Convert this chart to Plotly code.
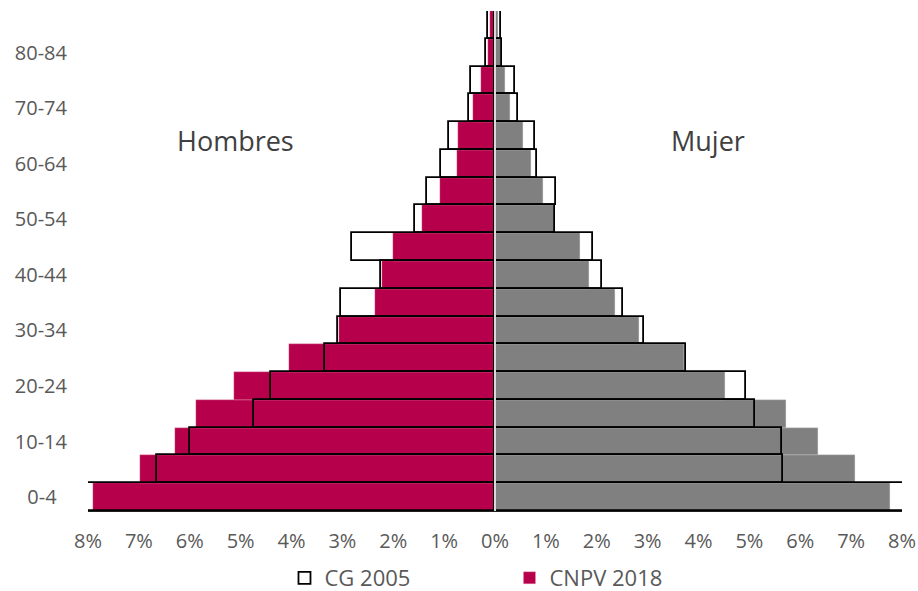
import plotly.graph_objects as go

# Age groups (bottom to top)
age_groups = ["0-4", "5-9", "10-14", "15-19", "20-24", "25-29", "30-34", "35-39",
              "40-44", "45-49", "50-54", "55-59", "60-64", "65-69", "70-74",
              "75-79", "80-84", "85+"]

# Percent of population
hombres_2018 = [7.90, 6.98, 6.29, 5.88, 5.13, 4.05, 3.07, 2.36, 2.23, 2.01,
                1.43, 1.09, 0.74, 0.72, 0.43, 0.27, 0.14, 0.09]
mujeres_2018 = [7.76, 7.08, 6.34, 5.72, 4.52, 3.72, 2.84, 2.36, 1.85, 1.68,
                1.16, 0.94, 0.70, 0.55, 0.29, 0.19, 0.11, 0.06]
hombres_2005 = [8.50, 6.65, 5.99, 4.74, 4.41, 3.34, 3.09, 3.03, 2.25, 2.81,
                1.57, 1.33, 1.07, 0.90, 0.52, 0.47, 0.17, 0.13]
mujeres_2005 = [8.50, 5.67, 5.65, 5.11, 4.93, 3.76, 2.92, 2.52, 2.11, 1.92,
                1.17, 1.20, 0.82, 0.78, 0.46, 0.40, 0.13, 0.11]

shown_ticks = ["0-4", "10-14", "20-24", "30-34", "40-44", "50-54", "60-64", "70-74", "80-84"]
x_ticks = list(range(-8, 9))
x_ticktext = [f"{abs(v)}%" for v in x_ticks]

CRIMSON = "#B7004B"
GRAY = "#808080"
TXT = "#595959"
FONT = "Open Sans"

fig = go.Figure()
fig.add_trace(go.Bar(
    y=age_groups, x=[-v for v in hombres_2018], orientation="h",
    name="CNPV 2018", marker=dict(color=CRIMSON, line=dict(color="#E8A0B8", width=0.3)),
    legendrank=2, hoverinfo="skip"))
fig.add_trace(go.Bar(
    y=age_groups, x=mujeres_2018, orientation="h",
    name="CNPV 2018 Mujer", marker=dict(color=GRAY, line=dict(color="#C8C8C8", width=0.3)),
    showlegend=False, hoverinfo="skip"))
fig.add_trace(go.Bar(
    y=age_groups, x=[-v for v in hombres_2005], orientation="h",
    name="CG 2005", marker=dict(color="rgba(255,255,255,0)", line=dict(color="black", width=1.8)),
    legendrank=1, hoverinfo="skip"))
fig.add_trace(go.Bar(
    y=age_groups, x=mujeres_2005, orientation="h",
    name="CG 2005 Mujer", marker=dict(color="rgba(255,255,255,0)", line=dict(color="black", width=1.8)),
    showlegend=False, hoverinfo="skip"))

fig.add_shape(type="line", xref="x", yref="paper", x0=0, x1=0, y0=0, y1=1,
              line=dict(color="#D9D9D9", width=2), layer="above")

fig.add_annotation(x=-5.1, y=12.85, xref="x", yref="y", text="Hombres", showarrow=False,
                   font=dict(family=FONT, size=27, color="#404040"))
fig.add_annotation(x=4.18, y=12.85, xref="x", yref="y", text="Mujer", showarrow=False,
                   font=dict(family=FONT, size=27, color="#404040"))

fig.update_layout(
    width=918, height=591,
    margin=dict(l=88, r=16, t=11, b=80, autoexpand=False),
    paper_bgcolor="white", plot_bgcolor="white",
    barmode="overlay", bargap=0,
    font=dict(family=FONT, size=20, color=TXT),
    showlegend=True,
    legend=dict(orientation="h", x=0.555, xanchor="center", xref="container",
                y=0.022, yanchor="middle", yref="container",
                font=dict(family=FONT, size=22, color=TXT),
                entrywidth=180, entrywidthmode="pixels", itemclick=False),
    xaxis=dict(range=[-8, 8], tickvals=x_ticks, ticktext=x_ticktext,
               showgrid=False, zeroline=False, showline=True, linecolor="#202020", linewidth=1,
               ticks="", ticklabelstandoff=12, fixedrange=True, automargin=False,
               tickfont=dict(family=FONT, size=20, color=TXT)),
    yaxis=dict(type="category", categoryorder="array", categoryarray=age_groups,
               range=[-0.5, len(age_groups) - 0.5],
               tickvals=shown_ticks, ticktext=["0-4\u00a0\u00a0"] + shown_ticks[1:],
               showgrid=False, zeroline=False, showline=False, ticks="",
               ticklabelstandoff=20, fixedrange=True, automargin=False,
               tickfont=dict(family=FONT, size=20, color=TXT)),
)

fig.write_html("out.html", config={"displayModeBar": False},
               post_script="document.body.style.margin='0';document.body.style.overflow='hidden';")
